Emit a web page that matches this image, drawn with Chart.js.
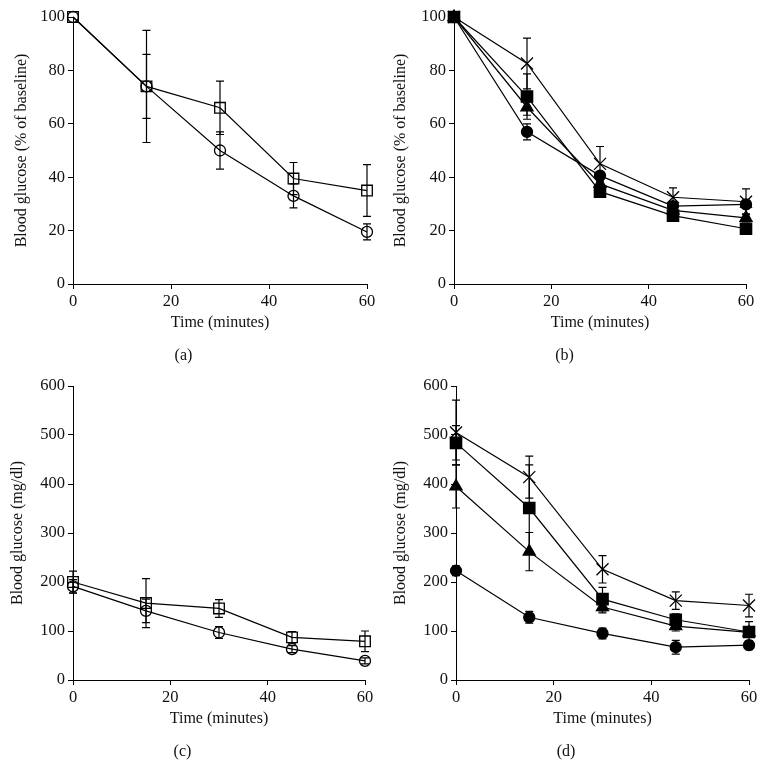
<!DOCTYPE html>
<html>
<head>
<meta charset="utf-8">
<script src="https://cdn.jsdelivr.net/npm/chart.js@4"></script>
<style>
  body { margin: 0; background: #fff; }
  .wrap { position: relative; width: 766px; height: 783px; }
  canvas { position: absolute; }
</style>
</head>
<body>
<div class="wrap">
  <canvas id="chart-a" width="383" height="370" style="left:0;top:0"></canvas>
  <canvas id="chart-b" width="383" height="370" style="left:383px;top:0"></canvas>
  <canvas id="chart-c" width="383" height="413" style="left:0;top:370px"></canvas>
  <canvas id="chart-d" width="383" height="413" style="left:383px;top:370px"></canvas>
</div>
<script>
// sampling times (minutes)
const times = [0, 15, 30, 45, 60]
const xTicks = [0, 20, 40, 60]

// (a) % of baseline, open markers
const aSquare = [100, 74, 66, 39.5, 35]
const aSquareErr = [0, 21, 10, 6, 9.7]
const aCircle = [100, 74, 50, 33, 19.5]
const aCircleErr = [0, 12, 7, 4.5, 3]

// (b) % of baseline, filled markers
const bCross = [100, 82.6, 45, 32.5, 30.8]
const bCrossErr = [0, 9.5, 6.5, 3.5, 4.8]
const bSquare = [100, 70.2, 34.6, 25.6, 20.7]
const bSquareErr = [0, 8.5, 1.5, 2.2, 1.5]
const bTriangle = [100, 66.2, 37.5, 27.6, 24.8]
const bTriangleErr = [0, 3, 1.5, 1.5, 1.5]
const bCircle = [100, 57, 40.6, 29.2, 29.8]
const bCircleErr = [0, 3, 1.5, 1.5, 1.5]

// (c) mg/dl, open markers
const cSquare = [200, 157, 146, 87, 79]
const cSquareErr = [22, 50, 18, 12, 21]
const cCircle = [191, 141, 97, 63, 39]
const cCircleErr = [14, 24, 12, 7, 6]

// (d) mg/dl, filled markers
const dCross = [505, 414, 226, 162, 152]
const dCrossErr = [66, 43, 28, 18, 23]
const dSquare = [484, 351, 165, 123, 98]
const dSquareErr = [35, 88, 24, 12, 21]
const dTriangle = [395, 262, 149, 110, 97]
const dTriangleErr = [44, 39, 12, 10, 8]
const dCircle = [223, 128, 95, 67, 71]
const dCircleErr = [10, 12, 11, 14, 9]

const FONT = "'Liberation Serif', 'DejaVu Serif', serif"

const markers = {
  openSquare: { pointStyle: 'rect', pointRadius: 7.5, backgroundColor: 'rgba(0,0,0,0)' },
  openCircle: { pointStyle: 'circle', pointRadius: 5.5, backgroundColor: 'rgba(0,0,0,0)' },
  square: { pointStyle: 'rect', pointRadius: 8, backgroundColor: '#000' },
  circle: { pointStyle: 'circle', pointRadius: 5.5, backgroundColor: '#000' },
  triangle: { pointStyle: 'triangle', pointRadius: 7, backgroundColor: '#000' },
  cross: { pointStyle: 'crossRot', pointRadius: 8.5, backgroundColor: '#000' },
}

// vertical error bars with caps, drawn through the chart's own scales
const errorBars = {
  id: 'errorBars',
  afterDatasetsDraw(chart) {
    const { ctx, scales: { x, y } } = chart
    ctx.save()
    ctx.strokeStyle = '#000'
    ctx.lineWidth = 1.2
    chart.data.datasets.forEach((ds) => {
      if (!ds.errors) return
      ds.data.forEach((p, i) => {
        const e = ds.errors[i]
        if (!e) return
        const px = x.getPixelForValue(p.x)
        const top = y.getPixelForValue(p.y + e)
        const bot = y.getPixelForValue(p.y - e)
        ctx.beginPath()
        ctx.moveTo(px, top)
        ctx.lineTo(px, bot)
        ctx.moveTo(px - 4, top)
        ctx.lineTo(px + 4, top)
        ctx.moveTo(px - 4, bot)
        ctx.lineTo(px + 4, bot)
        ctx.stroke()
      })
    })
    ctx.restore()
  },
}

const series = (label, values, errors, marker) => ({
  label,
  data: times.map((t, i) => ({ x: t, y: values[i] })),
  errors,
  clip: false,
  borderColor: '#000',
  borderWidth: 1.2,
  pointBorderColor: '#000',
  pointBorderWidth: 1.3,
  pointBackgroundColor: markers[marker].backgroundColor,
  pointStyle: markers[marker].pointStyle,
  pointRadius: markers[marker].pointRadius,
  tension: 0,
})

const panels = [
  {
    id: '#chart-a',
    letter: '(a)',
    yMax: 100,
    yStep: 20,
    yTitle: 'Blood glucose (% of baseline)',
    datasets: [
      series('Group 1', aSquare, aSquareErr, 'openSquare'),
      series('Group 2', aCircle, aCircleErr, 'openCircle'),
    ],
    pad: { top: 17, right: 16, left: 0, bottom: 0 },
    yWidth: 73,
    yTitlePad: 12,
    letterPad: { top: 12.4, bottom: 4.4 },
  },
  {
    id: '#chart-b',
    letter: '(b)',
    yMax: 100,
    yStep: 20,
    yTitle: 'Blood glucose (% of baseline)',
    datasets: [
      series('Group 1', bCross, bCrossErr, 'cross'),
      series('Group 2', bSquare, bSquareErr, 'square'),
      series('Group 3', bTriangle, bTriangleErr, 'triangle'),
      series('Group 4', bCircle, bCircleErr, 'circle'),
    ],
    pad: { top: 17, right: 20, left: 0, bottom: 0 },
    yWidth: 71,
    yTitlePad: 8.5,
    letterPad: { top: 12.4, bottom: 4.4 },
  },
  {
    id: '#chart-c',
    letter: '(c)',
    yMax: 600,
    yStep: 100,
    yTitle: 'Blood glucose (mg/dl)',
    datasets: [
      series('Group 1', cSquare, cSquareErr, 'openSquare'),
      series('Group 2', cCircle, cCircleErr, 'openCircle'),
    ],
    pad: { top: 16, right: 18, left: 0, bottom: 0 },
    yWidth: 73,
    yTitlePad: 8.5,
    letterPad: { top: 12.4, bottom: 21.4 },
  },
  {
    id: '#chart-d',
    letter: '(d)',
    yMax: 600,
    yStep: 100,
    yTitle: 'Blood glucose (mg/dl)',
    datasets: [
      series('Group 1', dCross, dCrossErr, 'cross'),
      series('Group 2', dSquare, dSquareErr, 'square'),
      series('Group 3', dTriangle, dTriangleErr, 'triangle'),
      series('Group 4', dCircle, dCircleErr, 'circle'),
    ],
    pad: { top: 16, right: 17, left: 0, bottom: 0 },
    yWidth: 73,
    yTitlePad: 8.5,
    letterPad: { top: 12.4, bottom: 21.4 },
  },
]

panels.forEach(({ id, letter, yMax, yStep, yTitle, datasets, pad, yWidth, yTitlePad, letterPad }) => {
  new Chart(document.querySelector(id), {
    type: 'line',
    data: { datasets },
    plugins: [errorBars],
    options: {
      responsive: false,
      animation: false,
      devicePixelRatio: 1,
      layout: { padding: pad },
      scales: {
        x: {
          type: 'linear',
          min: 0,
          max: 60,
          afterFit: (s) => { s.height = 50 },
          afterBuildTicks: (s) => { s.ticks = xTicks.map((v) => ({ value: v })) },
          grid: { display: true, drawOnChartArea: false, drawTicks: true, tickLength: 5, color: '#000' },
          border: { display: true, color: '#000', width: 1 },
          ticks: { color: '#111', padding: 3, font: { family: FONT, size: 16.5 } },
          title: {
            display: true,
            text: 'Time (minutes)',
            color: '#111',
            padding: { top: 0, bottom: 1.4 },
            font: { family: FONT, size: 16 },
          },
        },
        y: {
          min: 0,
          max: yMax,
          afterFit: (s) => { s.width = yWidth },
          grid: { display: true, drawOnChartArea: false, drawTicks: true, tickLength: 5, color: '#000' },
          border: { display: true, color: '#000', width: 1 },
          ticks: { stepSize: yStep, color: '#111', padding: 3, font: { family: FONT, size: 16.5 } },
          title: {
            display: true,
            text: yTitle,
            color: '#111',
            padding: { top: yTitlePad, bottom: 0 },
            font: { family: FONT, size: 16 },
          },
        },
      },
      plugins: {
        legend: { display: false },
        tooltip: { enabled: false },
        title: {
          display: true,
          position: 'bottom',
          text: letter,
          color: '#111',
          padding: letterPad,
          font: { family: FONT, size: 16, weight: 'normal' },
        },
      },
    },
  })
})
</script>
</body>
</html>
